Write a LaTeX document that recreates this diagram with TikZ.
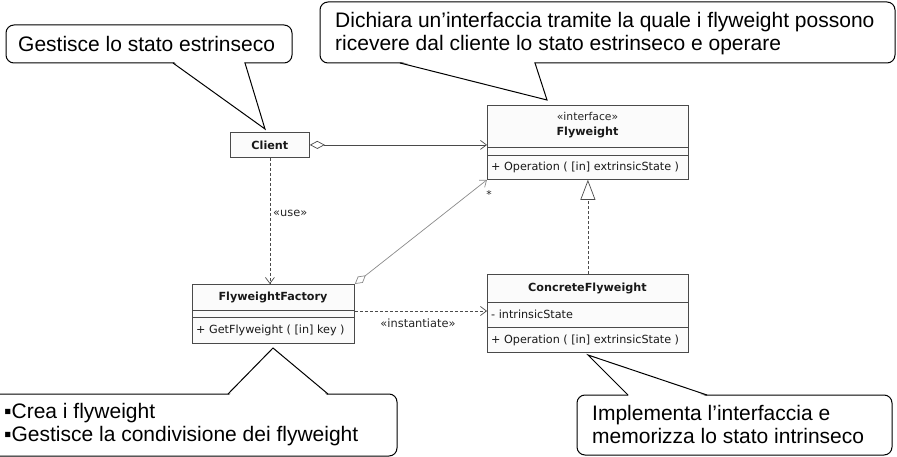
\documentclass[tikz,border=0pt]{standalone}
\usepackage{fontspec}
\setmainfont{Liberation Sans}
\newfontfamily\umlfont{DejaVu Sans}
\usetikzlibrary{arrows.meta}

\definecolor{umlline}{HTML}{4A4A4A}
\definecolor{umlfill}{HTML}{FBFBFB}
\definecolor{agline}{HTML}{8A8A8A}

\begin{document}
\begin{tikzpicture}[x=1pt,y=-1pt,
  umlbox/.style={draw=umlline, fill=umlfill, line width=0.8pt, inner sep=0pt,
                 anchor=north west, minimum width=#1},
  sepline/.style={draw=umlline, line width=0.8pt},
  umltext/.style={font=\umlfont\fontsize{11.2}{13}\selectfont, inner sep=0pt, text=black!90},
  umlbold/.style={font=\umlfont\bfseries\fontsize{11.2}{13}\selectfont, inner sep=0pt, text=black!90},
  stereo/.style={font=\umlfont\fontsize{10.8}{12}\selectfont, inner sep=0pt, text=black!85},
  link/.style={draw=umlline, line width=0.7pt},
  deplink/.style={link, dash pattern=on 3pt off 2pt},
  barb/.style={-{Straight Barb[length=6pt,width=9pt]}},
  callout/.style={draw=black, line width=1pt, fill=white, rounded corners=8pt},
  tail/.style={draw=black, line width=1pt, line join=miter},
  note/.style={font=\fontsize{21}{23.5}\selectfont, inner sep=0pt, align=left, anchor=west}
]
\useasboundingbox (0,0) rectangle (897,457);

% ---------- classes ----------
\node[umlbox=79pt, minimum height=25pt] (client) at (230,132) {};
\node[umlbold] (clientname) at (client.center) {Client};

\node[umlbox=201pt, minimum height=74pt] (flyweight) at (487,105) {};
\node[stereo] (flystereo) at (587.5,116.5) {«interface»};
\node[umlbold] (flyname) at (587.5,132) {Flyweight};
\draw[sepline] ([yshift=-42pt]flyweight.north west) -- ([yshift=-42pt]flyweight.north east);
\draw[sepline] ([yshift=-50pt]flyweight.north west) -- ([yshift=-50pt]flyweight.north east);
\node[umltext, anchor=west] (flyop) at (491,167.5) {+ Operation ( [in] extrinsicState )};

\node[umlbox=162pt, minimum height=59pt] (factory) at (192,284) {};
\node[umlbold] (factname) at (273,297.5) {FlyweightFactory};
\draw[sepline] ([yshift=-26pt]factory.north west) -- ([yshift=-26pt]factory.north east);
\draw[sepline] ([yshift=-33pt]factory.north west) -- ([yshift=-33pt]factory.north east);
\node[umltext, anchor=west] (factop) at (196,330.5) {+ GetFlyweight ( [in] key )};

\node[umlbox=201pt, minimum height=78pt] (concrete) at (487,274) {};
\node[umlbold] (concname) at (587.5,288.5) {ConcreteFlyweight};
\draw[sepline] ([yshift=-28pt]concrete.north west) -- ([yshift=-28pt]concrete.north east);
\draw[sepline] ([yshift=-53pt]concrete.north west) -- ([yshift=-53pt]concrete.north east);
\node[umltext, anchor=west] (concattr) at (491,314.5) {- intrinsicState};
\node[umltext, anchor=west] (concop) at (491,340) {+ Operation ( [in] extrinsicState )};

% ---------- relationships ----------
\draw[link, {Diamond[open,length=15pt,width=8pt,fill=white]}-{Straight Barb[length=6pt,width=9pt]}]
  (client.east) -- (client.east -| flyweight.west);
\draw[deplink, barb] (client.south) -- (client.south |- factory.north);
\node[stereo, anchor=west, font=\umlfont\fontsize{11.4}{13}\selectfont] (uselbl) at (273,213) {«use»};
\draw[link, draw=agline, {Diamond[open,length=14pt,width=8pt,fill=white]}-{Straight Barb[length=6pt,width=9pt]}]
  (factory.north east) -- (flyweight.south west);
\node[stereo] (mult) at (489,194) {*};
\coordinate (instfrom) at ([yshift=-27pt]factory.north east);
\draw[deplink, barb] (instfrom) -- (instfrom -| concrete.west);
\node[stereo, font=\umlfont\fontsize{11.4}{13}\selectfont] (instlbl) at (418,323) {«instantiate»};
\draw[deplink, -{Triangle[open,length=20pt,width=15pt,fill=white]}]
  (concrete.north) -- (flyweight.south);

% ---------- notes ----------
\coordinate (tipA) at (265,129);
\draw[callout] (6,25) rectangle (292,63);
\fill[white] (174,61.9) -- (tipA) -- (244,61.9) -- cycle;
\draw[tail] (173,63) -- (tipA) -- (245,63);
\node[note] (noteA) at (18,44) {Gestisce lo stato estrinseco};

\coordinate (tipB) at (547,100);
\draw[callout] (320,2) rectangle (895,63);
\fill[white] (401,61.9) -- (tipB) -- (534,61.9) -- cycle;
\draw[tail] (400,63) -- (tipB) -- (535,63);
\node[note] (noteB) at (335,33.5) {Dichiara un’interfaccia tramite la quale i flyweight possono\\ricevere dal cliente lo stato estrinseco e operare};

\coordinate (tipC) at (273,348);
\draw[callout] (-12,394) rectangle (397,456);
\fill[white] (229,395.1) -- (tipC) -- (327,395.1) -- cycle;
\draw[tail] (228,394) -- (tipC) -- (328,394);
\node[note] (noteC) at (4,424.5) {▪Crea i flyweight\\▪Gestisce la condivisione dei flyweight};

\coordinate (tipD) at (588,355);
\draw[callout] (577,395) rectangle (892,455);
\fill[white] (629,396.1) -- (tipD) -- (706,396.1) -- cycle;
\draw[tail] (628,395) -- (tipD) -- (707,395);
\node[note] (noteD) at (592,424.5) {Implementa l’interfaccia e\\memorizza lo stato intrinseco};
\end{tikzpicture}
\end{document}
